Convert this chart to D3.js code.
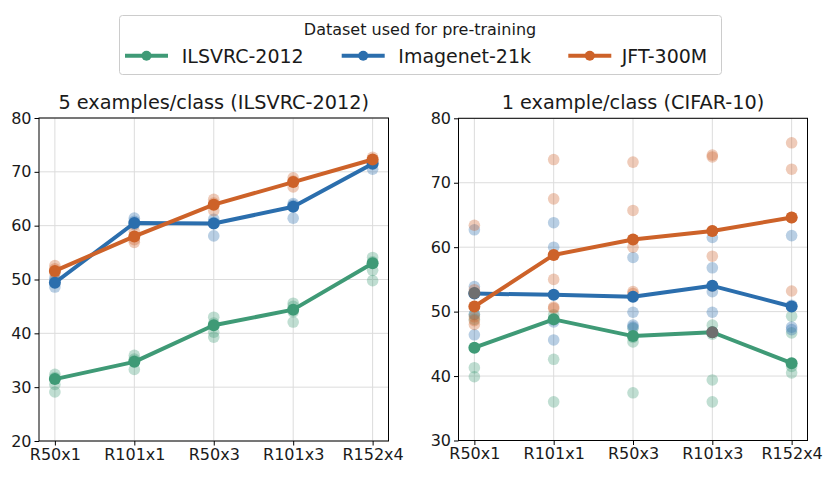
<!DOCTYPE html>
<html><head><meta charset="utf-8">
<script src="https://cdn.jsdelivr.net/npm/d3@7"></script>
<style>body{margin:0;background:#fff}svg{display:block}text{font-family:"DejaVu Sans",sans-serif;fill:#1a1a1a}</style>
</head><body>
<script>
const categories = ["R50x1","R101x1","R50x3","R101x3","R152x4"];
const seriesNames = ["ILSVRC-2012","Imagenet-21k","JFT-300M"];
const seriesColors = ["#3f9a76","#2b6ead","#cd6229"];
const legendTitle = "Dataset used for pre-training";
const panelTitles = ["5 examples/class (ILSVRC-2012)","1 example/class (CIFAR-10)"];
const yTicksLeft = [20,30,40,50,60,70,80];
const yTicksRight = [30,40,50,60,70,80];

// Left panel means
const leftILSVRC = [31.5,34.7,41.5,44.4,53.0];
const leftImagenet = [49.4,60.5,60.4,63.5,71.5];
const leftJFT = [51.6,58.0,63.9,68.1,72.3];
// Left panel individual runs (per category)
const leftILSVRCRuns = [[32.4,30.5,29.1,31.8],[35.9,33.3,34.9,35.2],[43.0,41.9,40.2,39.3],[45.6,44.0,42.1,45.0],[54.1,51.7,49.8,53.3]];
const leftImagenetRuns = [[48.6,50.3,49.8],[61.4,60.8,60.2],[61.2,58.1,60.6],[64.1,61.4,63.8],[70.5,71.6,72.0]];
const leftJFTRuns = [[52.6,52.0,51.2],[56.9,58.9,57.4],[64.9,62.8,64.2],[68.9,67.2,68.3],[72.7,72.2,71.8]];

// Right panel means
const rightILSVRC = [44.4,48.8,46.2,46.8,42.0];
const rightImagenet = [52.8,52.6,52.3,54.0,50.8];
const rightJFT = [50.8,58.8,61.2,62.5,64.6];
const rightILSVRCRuns = [[41.3,39.9,49.5,48.8],[49.5,42.6,36.0,48.7],[47.4,45.3,37.4,46.0],[47.9,39.4,36.0,46.5],[49.3,46.7,40.5,41.5]];
const rightImagenetRuns = [[62.7,53.9,46.4,49.6],[63.8,60.0,48.4,45.6],[58.4,49.9,47.9,47.6],[61.5,56.8,53.1,49.9],[61.8,47.6,47.2,51.0]];
const rightJFTRuns = [[63.4,53.4,49.2,48.6,48.0],[73.6,67.5,55.0,50.7,50.5],[73.2,65.7,60.0,53.1,52.8],[74.3,74.0,58.6,62.5,54.0],[76.2,72.1,53.2,64.6,64.6]];
// Overlapping runs that stack into a gray dot
const rightOverlap = [{c:"R50x1", v:52.9},{c:"R101x3", v:46.8}];

const W = 833, H = 477;
const svg = d3.select("body").append("svg").attr("width",W).attr("height",H);

function panel(x0, x1, yTop, yBot, domain, ticks, means, runs, title, overlap){
  const x = d3.scalePoint().domain(categories).range([x0, x1]).padding(0.2);
  const y = d3.scaleLinear().domain(domain).range([yBot, yTop]);
  const g = svg.append("g");
  g.selectAll(".gx").data(categories).enter().append("line")
    .attr("x1",d=>x(d)).attr("x2",d=>x(d)).attr("y1",yTop).attr("y2",yBot)
    .attr("stroke","#dcdcdc").attr("stroke-width",1);
  g.selectAll(".gy").data(ticks).enter().append("line")
    .attr("x1",x0).attr("x2",x1).attr("y1",d=>y(d)).attr("y2",d=>y(d))
    .attr("stroke","#dcdcdc").attr("stroke-width",1);
  runs.forEach((r,si)=>{
    r.forEach((vals,ci)=>{
      g.selectAll(null).data(vals).enter().append("circle")
        .attr("cx",x(categories[ci])).attr("cy",d=>y(d)).attr("r",5.8)
        .attr("fill",seriesColors[si]).attr("fill-opacity",0.33);
    });
  });
  const line = d3.line().x((d,i)=>x(categories[i])).y(d=>y(d));
  means.forEach((m,si)=>{
    g.append("path").datum(m).attr("d",line).attr("fill","none")
      .attr("stroke",seriesColors[si]).attr("stroke-width",4).attr("stroke-linejoin","round");
    g.selectAll(null).data(m).enter().append("circle")
      .attr("cx",(d,i)=>x(categories[i])).attr("cy",d=>y(d)).attr("r",6)
      .attr("fill",seriesColors[si]);
  });
  if (overlap){
    g.selectAll(null).data(overlap).enter().append("circle")
      .attr("cx",d=>x(d.c)).attr("cy",d=>y(d.v)).attr("r",6).attr("fill","#6f6f6f");
  }
  g.append("rect").attr("x",x0).attr("y",yTop).attr("width",x1-x0).attr("height",yBot-yTop)
    .attr("fill","none").attr("stroke","#000").attr("stroke-width",1);
  const ax = g.append("g").attr("transform",`translate(0,${yBot})`)
    .call(d3.axisBottom(x).tickSize(4.5).tickPadding(3));
  const ay = g.append("g").attr("transform",`translate(${x0},0)`)
    .call(d3.axisLeft(y).tickValues(ticks).tickSize(4.5).tickPadding(3));
  [ax,ay].forEach(a=>{
    a.select(".domain").remove();
    a.selectAll("line").attr("stroke","#000");
    a.selectAll("text").attr("font-size",16).attr("font-family","DejaVu Sans").attr("fill","#1a1a1a");
  });
  g.append("text").attr("x",(x0+x1)/2).attr("y",yTop-9).attr("text-anchor","middle")
    .attr("font-size",19.3).text(title);
}

panel(39, 388.5, 118, 441, [20,80], yTicksLeft,
  [leftILSVRC,leftImagenet,leftJFT], [leftILSVRCRuns,leftImagenetRuns,leftJFTRuns], panelTitles[0]);
panel(458.5, 807.5, 118.3, 440.5, [30,80], yTicksRight,
  [rightILSVRC,rightImagenet,rightJFT], [rightILSVRCRuns,rightImagenetRuns,rightJFTRuns], panelTitles[1], rightOverlap);

// legend
const lg = svg.append("g");
lg.append("rect").attr("x",119.5).attr("y",15.5).attr("width",602).attr("height",59).attr("rx",3)
  .attr("fill","#fff").attr("stroke","#cccccc").attr("stroke-width",1);
lg.append("text").attr("x",420).attr("y",35).attr("text-anchor","middle").attr("font-size",16).text(legendTitle);
const legX = [125, 341.7, 568.3];
const legTextX = [181.7, 398.3, 621.7];
seriesNames.forEach((n,i)=>{
  const gx = legX[i];
  lg.append("line").attr("x1",gx).attr("x2",gx+43).attr("y1",55.7).attr("y2",55.7)
    .attr("stroke",seriesColors[i]).attr("stroke-width",4);
  lg.append("circle").attr("cx",gx+21.5).attr("cy",55.7).attr("r",5).attr("fill",seriesColors[i]);
  lg.append("text").attr("x",legTextX[i]).attr("y",63).attr("font-size",19).text(n);
});
</script>
</body></html>
